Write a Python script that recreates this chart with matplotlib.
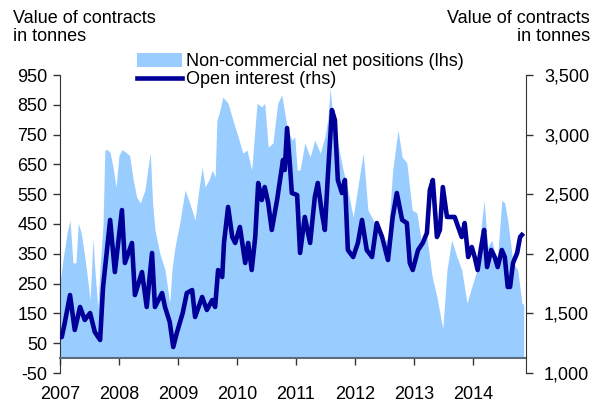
import matplotlib.pyplot as plt
from matplotlib.patches import Patch
from matplotlib.lines import Line2D
from matplotlib.ticker import FuncFormatter

plt.rcParams['font.family'] = ['Liberation Sans', 'DejaVu Sans']
plt.rcParams['axes.unicode_minus'] = False

# Non-commercial net positions (lhs), tonnes
net_years = [2007.00, 2007.05, 2007.12, 2007.17, 2007.22, 2007.27, 2007.31, 2007.36, 2007.42, 2007.47,
             2007.51, 2007.56, 2007.59, 2007.64, 2007.68, 2007.73, 2007.76, 2007.80, 2007.85, 2007.90,
             2007.95, 2008.00, 2008.05, 2008.12, 2008.18, 2008.24, 2008.30, 2008.36, 2008.44, 2008.50,
             2008.53, 2008.57, 2008.61, 2008.69, 2008.78, 2008.86, 2008.90, 2008.95, 2009.03, 2009.12,
             2009.20, 2009.29, 2009.35, 2009.41, 2009.46, 2009.53, 2009.58, 2009.63, 2009.66, 2009.71,
             2009.76, 2009.85, 2009.93, 2010.02, 2010.10, 2010.17, 2010.25, 2010.34, 2010.42, 2010.47,
             2010.53, 2010.61, 2010.69, 2010.76, 2010.85, 2010.93, 2010.98, 2011.02, 2011.07, 2011.15,
             2011.24, 2011.32, 2011.41, 2011.49, 2011.54, 2011.58, 2011.63, 2011.71, 2011.80, 2011.88,
             2011.97, 2012.05, 2012.14, 2012.22, 2012.31, 2012.39, 2012.46, 2012.56, 2012.64, 2012.73,
             2012.80, 2012.88, 2012.97, 2013.05, 2013.14, 2013.22, 2013.31, 2013.39, 2013.47, 2013.49,
             2013.56, 2013.64, 2013.73, 2013.81, 2013.90, 2013.98, 2014.07, 2014.12, 2014.19, 2014.25,
             2014.32, 2014.41, 2014.49, 2014.54, 2014.59, 2014.68, 2014.76, 2014.83, 2014.86]
net_values = [250, 330, 420, 463, 319, 320, 453, 420, 340, 262,
              195, 403, 300, 170, 305, 450, 698, 700, 690, 640,
              574, 680, 700, 690, 680, 600, 540, 520, 564, 650,
              688, 520, 430, 353, 296, 185, 300, 373, 453, 564,
              520, 463, 560, 641, 574, 600, 631, 608, 799, 830,
              876, 855, 799, 742, 688, 698, 631, 855, 843, 855,
              708, 722, 855, 883, 775, 732, 742, 631, 631, 722,
              675, 732, 688, 742, 800, 906, 799, 722, 631, 564,
              473, 574, 688, 497, 463, 420, 373, 406, 631, 765,
              675, 655, 497, 487, 373, 406, 272, 205, 118, 101,
              296, 396, 339, 296, 185, 239, 296, 406, 530, 373,
              396, 319, 530, 520, 463, 319, 296, 185, 180]

# Open interest (rhs), tonnes
oi_years = [2007.00, 2007.03, 2007.08, 2007.17, 2007.25, 2007.34, 2007.42, 2007.51, 2007.59, 2007.68,
            2007.73, 2007.85, 2007.93, 2008.05, 2008.10, 2008.22, 2008.27, 2008.39, 2008.47, 2008.56,
            2008.61, 2008.73, 2008.78, 2008.86, 2008.92, 2008.98, 2009.08, 2009.15, 2009.24, 2009.29,
            2009.41, 2009.49, 2009.58, 2009.63, 2009.68, 2009.75, 2009.78, 2009.85, 2009.92, 2009.97,
            2010.05, 2010.14, 2010.19, 2010.25, 2010.31, 2010.36, 2010.42, 2010.47, 2010.53, 2010.59,
            2010.68, 2010.73, 2010.78, 2010.81, 2010.85, 2010.90, 2010.93, 2011.02, 2011.07, 2011.15,
            2011.24, 2011.32, 2011.37, 2011.44, 2011.49, 2011.54, 2011.61, 2011.66, 2011.71, 2011.78,
            2011.83, 2011.88, 2011.97, 2012.05, 2012.12, 2012.20, 2012.29, 2012.37, 2012.46, 2012.56,
            2012.64, 2012.71, 2012.80, 2012.88, 2012.93, 2012.98, 2013.07, 2013.15, 2013.22, 2013.27,
            2013.32, 2013.39, 2013.44, 2013.49, 2013.56, 2013.61, 2013.69, 2013.75, 2013.81, 2013.86,
            2013.92, 2013.98, 2014.03, 2014.08, 2014.14, 2014.19, 2014.24, 2014.31, 2014.37, 2014.42,
            2014.49, 2014.54, 2014.59, 2014.63, 2014.68, 2014.75, 2014.80, 2014.83]
oi_values = [1300, 1302, 1419, 1654, 1361, 1554, 1445, 1503, 1344, 1277,
             1722, 2284, 1847, 2367, 1923, 2091, 1654, 1847, 1554, 2007,
             1554, 1671, 1554, 1428, 1218, 1336, 1503, 1671, 1696, 1470,
             1638, 1529, 1612, 1554, 1864, 1805, 2091, 2393, 2141, 2091,
             2225, 1923, 2091, 1864, 2141, 2594, 2451, 2560, 2426, 2200,
             2451, 2619, 2787, 2703, 3055, 2728, 2510, 2493, 2007, 2309,
             2091, 2477, 2594, 2342, 2200, 2644, 3206, 3122, 2619, 2510,
             2619, 2032, 1973, 2091, 2284, 2032, 1973, 2258, 2141, 1948,
             2309, 2510, 2284, 2258, 1923, 1864, 2032, 2091, 2175, 2535,
             2619, 2141, 2200, 2560, 2309, 2309, 2309, 2225, 2141, 2258,
             1973, 2057, 1973, 1864, 2057, 2200, 1889, 2032, 1973, 1889,
             2032, 1973, 1722, 1722, 1923, 2007, 2141, 2158]

year_ticks = [2007, 2008, 2009, 2010, 2011, 2012, 2013, 2014]
left_ticks = list(range(-50, 951, 100))
right_ticks = [1000, 1500, 2000, 2500, 3000, 3500]

area_color = '#99CCFF'
line_color = '#000099'
fs = 13

fig = plt.figure(figsize=(5.98, 4.03), dpi=100)
ax = fig.add_axes([60 / 598, 30 / 403, 466 / 598, 298 / 403])
ax.fill_between(net_years, 0, net_values, color=area_color, linewidth=0, zorder=1)
ax.set_xlim(2007, 2014.9)
ax.set_ylim(-50, 950)
ax.set_yticks(left_ticks)
ax.set_xticks(year_ticks)
ax.spines['top'].set_visible(False)
ax.spines['right'].set_visible(False)
ax.spines['bottom'].set_position(('data', 0))
ax.spines['bottom'].set_color('#5a6b7c')
ax.spines['bottom'].set_linewidth(1.5)
ax.spines['left'].set_color('#333333')
ax.tick_params(axis='y', direction='out', length=5, width=1, color='#333333',
               labelsize=fs, pad=4)
ax.tick_params(axis='x', direction='out', length=5, width=1, color='#333333',
               labelsize=fs, pad=15)

ax2 = ax.twinx()
ax2.plot(oi_years, oi_values, color=line_color, linewidth=3.3, zorder=3)
ax2.set_ylim(1000, 3500)
ax2.set_yticks(right_ticks)
ax2.yaxis.set_major_formatter(FuncFormatter(lambda v, p: f'{int(v):,}'))
for s in ['top', 'left', 'bottom']:
    ax2.spines[s].set_visible(False)
ax2.spines['right'].set_color('#333333')
ax2.tick_params(axis='y', direction='out', length=5, width=1, color='#333333',
                labelsize=fs, pad=8)

fig.text(13 / 598, 1 - 10 / 403, 'Value of contracts\nin tonnes', ha='left', va='top',
         fontsize=fs, linespacing=1.1)
fig.text(590 / 598, 1 - 10 / 403, 'Value of contracts\nin tonnes', ha='right', va='top',
         fontsize=fs, linespacing=1.1)

handles = [Patch(facecolor=area_color, edgecolor='none'),
           Line2D([0], [0], color=line_color, linewidth=3.3)]
labels = ['Non-commercial net positions (lhs)', 'Open interest (rhs)']
fig.legend(handles, labels, loc='upper left', bbox_to_anchor=(130 / 598, 1 - 46 / 403),
           frameon=False, fontsize=fs, handlelength=2.5, handleheight=0.8,
           handletextpad=0.2, labelspacing=0.05, borderaxespad=0)

fig.savefig('out.png', dpi=100)
